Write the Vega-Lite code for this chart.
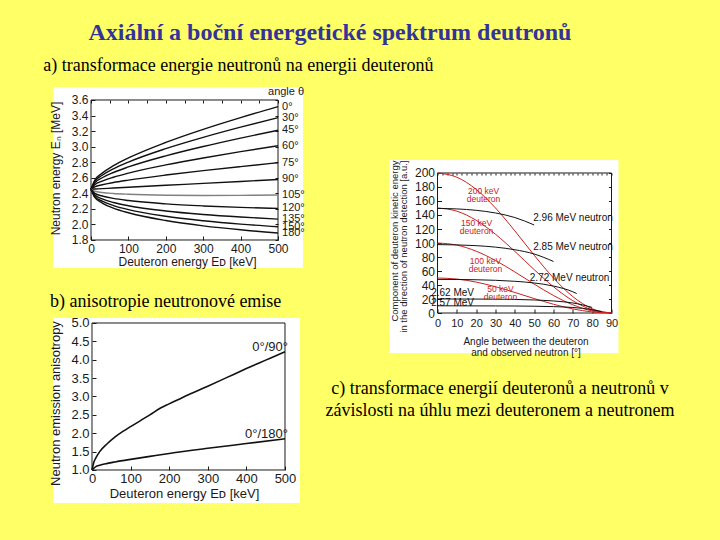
{
  "$schema": "https://vega.github.io/schema/vega-lite/v6.json",
  "background": "#FFFF66",
  "padding": {"left": 43, "top": 20, "right": 46, "bottom": 38},
  "title": {"text": "Axiální a boční energetické spektrum deutronů", "font": "Liberation Serif", "fontSize": 24, "fontWeight": "bold", "color": "#333399", "anchor": "middle", "dx": -29, "offset": 12},
  "config": {
    "view": {"stroke": null},
    "title": {"font": "Liberation Serif", "fontSize": 18, "fontWeight": "normal", "color": "#000000"},
    "axis": {"labelFont": "Liberation Sans", "titleFont": "Liberation Sans", "labelColor": "#1a1a1a", "titleColor": "#1a1a1a", "tickColor": "#1a1a1a", "grid": false, "titleFontWeight": "normal", "labelFlush": false, "labelOverlap": false, "labelBound": false, "domain": false},
    "text": {"font": "Liberation Sans"}
  },
  "datasets": {
    "energy": [
      {"E":0,"En":2.453,"angle":"0°"},{"E":10,"En":2.568,"angle":"0°"},{"E":30,"En":2.660,"angle":"0°"},{"E":60,"En":2.755,"angle":"0°"},{"E":100,"En":2.855,"angle":"0°"},{"E":200,"En":3.055,"angle":"0°"},{"E":300,"En":3.223,"angle":"0°"},{"E":400,"En":3.374,"angle":"0°"},{"E":500,"En":3.515,"angle":"0°"},
      {"E":0,"En":2.453,"angle":"30°"},{"E":10,"En":2.553,"angle":"30°"},{"E":30,"En":2.632,"angle":"30°"},{"E":60,"En":2.715,"angle":"30°"},{"E":100,"En":2.802,"angle":"30°"},{"E":200,"En":2.975,"angle":"30°"},{"E":300,"En":3.120,"angle":"30°"},{"E":400,"En":3.251,"angle":"30°"},{"E":500,"En":3.373,"angle":"30°"},
      {"E":0,"En":2.453,"angle":"45°"},{"E":10,"En":2.535,"angle":"45°"},{"E":30,"En":2.600,"angle":"45°"},{"E":60,"En":2.668,"angle":"45°"},{"E":100,"En":2.739,"angle":"45°"},{"E":200,"En":2.882,"angle":"45°"},{"E":300,"En":3.002,"angle":"45°"},{"E":400,"En":3.110,"angle":"45°"},{"E":500,"En":3.211,"angle":"45°"},
      {"E":0,"En":2.453,"angle":"60°"},{"E":10,"En":2.511,"angle":"60°"},{"E":30,"En":2.558,"angle":"60°"},{"E":60,"En":2.607,"angle":"60°"},{"E":100,"En":2.660,"angle":"60°"},{"E":200,"En":2.765,"angle":"60°"},{"E":300,"En":2.855,"angle":"60°"},{"E":400,"En":2.936,"angle":"60°"},{"E":500,"En":3.011,"angle":"60°"},
      {"E":0,"En":2.453,"angle":"75°"},{"E":10,"En":2.484,"angle":"75°"},{"E":30,"En":2.510,"angle":"75°"},{"E":60,"En":2.539,"angle":"75°"},{"E":100,"En":2.570,"angle":"75°"},{"E":200,"En":2.635,"angle":"75°"},{"E":300,"En":2.692,"angle":"75°"},{"E":400,"En":2.744,"angle":"75°"},{"E":500,"En":2.794,"angle":"75°"},
      {"E":0,"En":2.453,"angle":"90°"},{"E":10,"En":2.455,"angle":"90°"},{"E":30,"En":2.460,"angle":"90°"},{"E":60,"En":2.468,"angle":"90°"},{"E":100,"En":2.478,"angle":"90°"},{"E":200,"En":2.503,"angle":"90°"},{"E":300,"En":2.528,"angle":"90°"},{"E":400,"En":2.553,"angle":"90°"},{"E":500,"En":2.578,"angle":"90°"},
      {"E":0,"En":2.453,"angle":"105°"},{"E":10,"En":2.427,"angle":"105°"},{"E":30,"En":2.411,"angle":"105°"},{"E":60,"En":2.398,"angle":"105°"},{"E":100,"En":2.388,"angle":"105°"},{"E":200,"En":2.376,"angle":"105°"},{"E":300,"En":2.373,"angle":"105°"},{"E":400,"En":2.374,"angle":"105°"},{"E":500,"En":2.378,"angle":"105°"},
      {"E":0,"En":2.453,"angle":"120°"},{"E":10,"En":2.400,"angle":"120°"},{"E":30,"En":2.366,"angle":"120°"},{"E":60,"En":2.335,"angle":"120°"},{"E":100,"En":2.308,"angle":"120°"},{"E":200,"En":2.265,"angle":"120°"},{"E":300,"En":2.238,"angle":"120°"},{"E":400,"En":2.219,"angle":"120°"},{"E":500,"En":2.206,"angle":"120°"},
      {"E":0,"En":2.453,"angle":"135°"},{"E":10,"En":2.378,"angle":"135°"},{"E":30,"En":2.328,"angle":"135°"},{"E":60,"En":2.282,"angle":"135°"},{"E":100,"En":2.241,"angle":"135°"},{"E":200,"En":2.173,"angle":"135°"},{"E":300,"En":2.128,"angle":"135°"},{"E":400,"En":2.095,"angle":"135°"},{"E":500,"En":2.069,"angle":"135°"},
      {"E":0,"En":2.453,"angle":"150°"},{"E":10,"En":2.361,"angle":"150°"},{"E":30,"En":2.299,"angle":"150°"},{"E":60,"En":2.243,"angle":"150°"},{"E":100,"En":2.191,"angle":"150°"},{"E":200,"En":2.105,"angle":"150°"},{"E":300,"En":2.048,"angle":"150°"},{"E":400,"En":2.004,"angle":"150°"},{"E":500,"En":1.970,"angle":"150°"},
      {"E":0,"En":2.453,"angle":"180°"},{"E":10,"En":2.347,"angle":"180°"},{"E":30,"En":2.275,"angle":"180°"},{"E":60,"En":2.210,"angle":"180°"},{"E":100,"En":2.150,"angle":"180°"},{"E":200,"En":2.050,"angle":"180°"},{"E":300,"En":1.982,"angle":"180°"},{"E":400,"En":1.931,"angle":"180°"},{"E":500,"En":1.890,"angle":"180°"}
    ],
    "anis": [
      {"E":0,"A":1.0,"ratio":"0°/90°"},{"E":5,"A":1.22,"ratio":"0°/90°"},{"E":10,"A":1.33,"ratio":"0°/90°"},{"E":20,"A":1.5,"ratio":"0°/90°"},{"E":40,"A":1.72,"ratio":"0°/90°"},{"E":60,"A":1.9,"ratio":"0°/90°"},{"E":80,"A":2.05,"ratio":"0°/90°"},{"E":100,"A":2.18,"ratio":"0°/90°"},{"E":150,"A":2.5,"ratio":"0°/90°"},{"E":180,"A":2.7,"ratio":"0°/90°"},{"E":200,"A":2.8,"ratio":"0°/90°"},{"E":250,"A":3.05,"ratio":"0°/90°"},{"E":300,"A":3.28,"ratio":"0°/90°"},{"E":350,"A":3.52,"ratio":"0°/90°"},{"E":400,"A":3.76,"ratio":"0°/90°"},{"E":450,"A":3.99,"ratio":"0°/90°"},{"E":500,"A":4.22,"ratio":"0°/90°"},
      {"E":0,"A":1.0,"ratio":"0°/180°"},{"E":5,"A":1.05,"ratio":"0°/180°"},{"E":10,"A":1.09,"ratio":"0°/180°"},{"E":20,"A":1.13,"ratio":"0°/180°"},{"E":40,"A":1.18,"ratio":"0°/180°"},{"E":60,"A":1.22,"ratio":"0°/180°"},{"E":100,"A":1.29,"ratio":"0°/180°"},{"E":150,"A":1.37,"ratio":"0°/180°"},{"E":200,"A":1.45,"ratio":"0°/180°"},{"E":300,"A":1.59,"ratio":"0°/180°"},{"E":400,"A":1.72,"ratio":"0°/180°"},{"E":500,"A":1.85,"ratio":"0°/180°"}
    ],
    "comp": [
      {"angle":0,"value":200,"curve":"200 keV","kind":"deuteron"},{"angle":10,"value":193.97,"curve":"200 keV","kind":"deuteron"},{"angle":20,"value":176.6,"curve":"200 keV","kind":"deuteron"},{"angle":30,"value":150,"curve":"200 keV","kind":"deuteron"},{"angle":40,"value":117.36,"curve":"200 keV","kind":"deuteron"},{"angle":50,"value":82.64,"curve":"200 keV","kind":"deuteron"},{"angle":60,"value":50,"curve":"200 keV","kind":"deuteron"},{"angle":70,"value":23.4,"curve":"200 keV","kind":"deuteron"},{"angle":80,"value":6.03,"curve":"200 keV","kind":"deuteron"},{"angle":90,"value":0,"curve":"200 keV","kind":"deuteron"},
      {"angle":0,"value":150,"curve":"150 keV","kind":"deuteron"},{"angle":10,"value":145.48,"curve":"150 keV","kind":"deuteron"},{"angle":20,"value":132.45,"curve":"150 keV","kind":"deuteron"},{"angle":30,"value":112.5,"curve":"150 keV","kind":"deuteron"},{"angle":40,"value":88.02,"curve":"150 keV","kind":"deuteron"},{"angle":50,"value":61.98,"curve":"150 keV","kind":"deuteron"},{"angle":60,"value":37.5,"curve":"150 keV","kind":"deuteron"},{"angle":70,"value":17.55,"curve":"150 keV","kind":"deuteron"},{"angle":80,"value":4.52,"curve":"150 keV","kind":"deuteron"},{"angle":90,"value":0,"curve":"150 keV","kind":"deuteron"},
      {"angle":0,"value":100,"curve":"100 keV","kind":"deuteron"},{"angle":10,"value":96.98,"curve":"100 keV","kind":"deuteron"},{"angle":20,"value":88.3,"curve":"100 keV","kind":"deuteron"},{"angle":30,"value":75,"curve":"100 keV","kind":"deuteron"},{"angle":40,"value":58.68,"curve":"100 keV","kind":"deuteron"},{"angle":50,"value":41.32,"curve":"100 keV","kind":"deuteron"},{"angle":60,"value":25,"curve":"100 keV","kind":"deuteron"},{"angle":70,"value":11.7,"curve":"100 keV","kind":"deuteron"},{"angle":80,"value":3.02,"curve":"100 keV","kind":"deuteron"},{"angle":90,"value":0,"curve":"100 keV","kind":"deuteron"},
      {"angle":0,"value":50,"curve":"50 keV","kind":"deuteron"},{"angle":10,"value":48.49,"curve":"50 keV","kind":"deuteron"},{"angle":20,"value":44.15,"curve":"50 keV","kind":"deuteron"},{"angle":30,"value":37.5,"curve":"50 keV","kind":"deuteron"},{"angle":40,"value":29.34,"curve":"50 keV","kind":"deuteron"},{"angle":50,"value":20.66,"curve":"50 keV","kind":"deuteron"},{"angle":60,"value":12.5,"curve":"50 keV","kind":"deuteron"},{"angle":70,"value":5.85,"curve":"50 keV","kind":"deuteron"},{"angle":80,"value":1.51,"curve":"50 keV","kind":"deuteron"},{"angle":90,"value":0,"curve":"50 keV","kind":"deuteron"},
      {"angle":0,"value":149.4,"curve":"2.96 MeV","kind":"neutron"},{"angle":10,"value":148.7,"curve":"2.96 MeV","kind":"neutron"},{"angle":20,"value":146.7,"curve":"2.96 MeV","kind":"neutron"},{"angle":30,"value":142.9,"curve":"2.96 MeV","kind":"neutron"},{"angle":40,"value":136.4,"curve":"2.96 MeV","kind":"neutron"},{"angle":50,"value":125.8,"curve":"2.96 MeV","kind":"neutron"},
      {"angle":0,"value":97.7,"curve":"2.85 MeV","kind":"neutron"},{"angle":10,"value":97.3,"curve":"2.85 MeV","kind":"neutron"},{"angle":20,"value":96.2,"curve":"2.85 MeV","kind":"neutron"},{"angle":30,"value":94.1,"curve":"2.85 MeV","kind":"neutron"},{"angle":40,"value":90.4,"curve":"2.85 MeV","kind":"neutron"},{"angle":50,"value":84.3,"curve":"2.85 MeV","kind":"neutron"},{"angle":60,"value":73.6,"curve":"2.85 MeV","kind":"neutron"},
      {"angle":0,"value":48.0,"curve":"2.72 MeV","kind":"neutron"},{"angle":10,"value":47.9,"curve":"2.72 MeV","kind":"neutron"},{"angle":20,"value":47.5,"curve":"2.72 MeV","kind":"neutron"},{"angle":30,"value":46.7,"curve":"2.72 MeV","kind":"neutron"},{"angle":40,"value":45.3,"curve":"2.72 MeV","kind":"neutron"},{"angle":50,"value":42.9,"curve":"2.72 MeV","kind":"neutron"},{"angle":60,"value":38.5,"curve":"2.72 MeV","kind":"neutron"},{"angle":70,"value":30.3,"curve":"2.72 MeV","kind":"neutron"},{"angle":72,"value":27.8,"curve":"2.72 MeV","kind":"neutron"},
      {"angle":0,"value":20.1,"curve":"2.62 MeV","kind":"neutron"},{"angle":30,"value":19.8,"curve":"2.62 MeV","kind":"neutron"},{"angle":40,"value":19.4,"curve":"2.62 MeV","kind":"neutron"},{"angle":50,"value":18.6,"curve":"2.62 MeV","kind":"neutron"},{"angle":60,"value":17.2,"curve":"2.62 MeV","kind":"neutron"},{"angle":70,"value":14.3,"curve":"2.62 MeV","kind":"neutron"},{"angle":75,"value":11.7,"curve":"2.62 MeV","kind":"neutron"},{"angle":80,"value":7.9,"curve":"2.62 MeV","kind":"neutron"},
      {"angle":0,"value":10.3,"curve":"2.57 MeV","kind":"neutron"},{"angle":30,"value":10.1,"curve":"2.57 MeV","kind":"neutron"},{"angle":40,"value":10.0,"curve":"2.57 MeV","kind":"neutron"},{"angle":50,"value":9.7,"curve":"2.57 MeV","kind":"neutron"},{"angle":60,"value":9.1,"curve":"2.57 MeV","kind":"neutron"},{"angle":70,"value":7.9,"curve":"2.57 MeV","kind":"neutron"},{"angle":80,"value":4.8,"curve":"2.57 MeV","kind":"neutron"},{"angle":85,"value":2.0,"curve":"2.57 MeV","kind":"neutron"}
    ],
    "compLabels": [
      {"angle":23.8,"value":173.6,"text":["200 keV","deuteron"],"kind":"deuteron"},
      {"angle":20.2,"value":127.9,"text":["150 keV","deuteron"],"kind":"deuteron"},
      {"angle":24.8,"value":75.0,"text":["100 keV","deuteron"],"kind":"deuteron"},
      {"angle":32.6,"value":33.6,"text":["50 keV","deuteron"],"kind":"deuteron"},
      {"angle":70.1,"value":136.4,"text":"2.96 MeV neutron","kind":"neutron"},
      {"angle":70.1,"value":95.0,"text":"2.85 MeV neutron","kind":"neutron"},
      {"angle":68.3,"value":49.3,"text":"2.72 MeV neutron","kind":"neutron"},
      {"angle":7.8,"value":27.9,"text":"2.62 MeV","kind":"neutron"},
      {"angle":7.8,"value":15.0,"text":"2.57 MeV","kind":"neutron"}
    ]
  },
  "vconcat": [
    {
      "title": {"text": "a) transformace energie neutronů na energii deuteronů", "anchor": "start", "dx": -6, "offset": 11},
      "hconcat": [
        {
          "vconcat": [
            {
              "width": 250, "height": 181,
              "view": {"fill": "white", "stroke": null},
              "layer": [
                {
                  "data": {"values": [{}]},
                  "mark": {"type": "rect", "fill": "white", "fillOpacity": 0, "stroke": "#1a1a1a", "strokeWidth": 1},
                  "encoding": {
                    "x": {"datum": 0, "type": "quantitative", "scale": {"domain": [-101.6, 566.8], "nice": false, "zero": false},
                      "axis": {"orient": "bottom", "offset": -28, "values": [0,100,200,300,400,500], "tickSize": -4, "labelPadding": 7, "labelFontSize": 12, "title": "Deuteron energy  Eᴅ [keV]", "titleFontSize": 12, "titlePadding": 2, "titleX": 134}},
                    "x2": {"datum": 500},
                    "y": {"datum": 1.8, "type": "quantitative", "scale": {"domain": [1.44, 3.767], "nice": false, "zero": false},
                      "axis": {"orient": "left", "offset": -38, "values": [1.8,2.0,2.2,2.4,2.6,2.8,3.0,3.2,3.4,3.6], "format": ".1f", "tickSize": -4, "labelPadding": 7, "labelFontSize": 12, "title": "Neutron energy  Eₙ [MeV]", "titleFontSize": 12, "titlePadding": 9, "titleY": 81}},
                    "y2": {"datum": 3.6}
                  }
                },
                {
                  "data": {"name": "energy"},
                  "mark": {"type": "line", "interpolate": "monotone", "strokeWidth": 1.4},
                  "encoding": {
                    "x": {"field": "E", "type": "quantitative", "scale": {"domain": [-101.6, 566.8], "nice": false, "zero": false},
                      "axis": {"orient": "top", "offset": -13, "values": [0,50,100,150,200,250,300,350,400,450,500], "labels": false, "tickSize": -3, "title": null}},
                    "y": {"field": "En", "type": "quantitative", "scale": {"domain": [1.44, 3.767], "nice": false, "zero": false},
                      "axis": {"orient": "right", "offset": -25, "values": [1.8,2.0,2.2,2.4,2.6,2.8,3.0,3.2,3.4,3.6], "labels": false, "tickSize": -3, "title": null}},
                    "detail": {"field": "angle"},
                    "color": {"field": "angle", "type": "nominal", "legend": null,
                      "scale": {"domain": ["0°","30°","45°","60°","75°","90°","105°","120°","135°","150°","180°"], "range": ["#111111","#111111","#111111","#111111","#111111","#111111","#808080","#111111","#111111","#111111","#111111"]}}
                  }
                },
                {
                  "data": {"name": "energy"},
                  "transform": [{"filter": "datum.E == 500"}],
                  "mark": {"type": "text", "align": "left", "baseline": "middle", "dx": 4, "fontSize": 11, "color": "#1a1a1a"},
                  "encoding": {
                    "x": {"field": "E", "type": "quantitative", "scale": {"domain": [-101.6, 566.8], "nice": false, "zero": false}, "axis": null},
                    "y": {"field": "En", "type": "quantitative", "scale": {"domain": [1.44, 3.767], "nice": false, "zero": false}, "axis": null},
                    "text": {"field": "angle"}
                  }
                },
                {
                  "data": {"values": [{}]},
                  "mark": {"type": "text", "text": "angle θ", "align": "left", "baseline": "middle", "dx": -10, "dy": -8, "fontSize": 11, "color": "#1a1a1a"},
                  "encoding": {
                    "x": {"datum": 500, "type": "quantitative", "scale": {"domain": [-101.6, 566.8], "nice": false, "zero": false}, "axis": null},
                    "y": {"datum": 3.6, "type": "quantitative", "scale": {"domain": [1.44, 3.767], "nice": false, "zero": false}, "axis": null}
                  }
                }
              ],
              "resolve": {"axis": {"x": "independent", "y": "independent"}}
            },
            {
              "width": 247, "height": 185,
              "view": {"fill": "white", "stroke": null},
              "title": {"text": "b) anisotropie neutronové emise", "anchor": "start", "offset": 6},
              "layer": [
                {
                  "data": {"values": [{}]},
                  "mark": {"type": "rect", "fill": "white", "fillOpacity": 0, "stroke": "#1a1a1a", "strokeWidth": 1},
                  "encoding": {
                    "x": {"datum": 0, "type": "quantitative", "scale": {"domain": [-101.0, 538.9], "nice": false, "zero": false},
                      "axis": {"orient": "bottom", "offset": -33, "values": [0,100,200,300,400,500], "tickSize": -4, "labelPadding": 6, "labelFontSize": 13, "title": "Deuteron energy  Eᴅ [keV]", "titleFontSize": 13, "titlePadding": 2, "titleX": 131}},
                    "x2": {"datum": 500},
                    "y": {"datum": 1.0, "type": "quantitative", "scale": {"domain": [0.102, 5.136], "nice": false, "zero": false},
                      "axis": {"orient": "left", "offset": -39, "values": [1.0,1.5,2.0,2.5,3.0,3.5,4.0,4.5,5.0], "format": ".1f", "tickSize": -4, "labelPadding": 7, "labelFontSize": 13, "title": "Neutron emission anisotropy", "titleFontSize": 13, "titlePadding": 8, "titleY": 85}},
                    "y2": {"datum": 5.0}
                  }
                },
                {
                  "data": {"name": "anis"},
                  "mark": {"type": "line", "interpolate": "monotone", "strokeWidth": 1.6, "color": "#111111"},
                  "encoding": {
                    "x": {"field": "E", "type": "quantitative", "scale": {"domain": [-101.0, 538.9], "nice": false, "zero": false}, "axis": null},
                    "y": {"field": "A", "type": "quantitative", "scale": {"domain": [0.102, 5.136], "nice": false, "zero": false}, "axis": null},
                    "detail": {"field": "ratio"}
                  }
                },
                {
                  "data": {"name": "anis"},
                  "transform": [{"filter": "datum.E == 500"}],
                  "mark": {"type": "text", "align": "right", "baseline": "middle", "dx": 3, "dy": -5, "fontSize": 13, "color": "#1a1a1a"},
                  "encoding": {
                    "x": {"field": "E", "type": "quantitative", "scale": {"domain": [-101.0, 538.9], "nice": false, "zero": false}, "axis": null},
                    "y": {"field": "A", "type": "quantitative", "scale": {"domain": [0.102, 5.136], "nice": false, "zero": false}, "axis": null},
                    "text": {"field": "ratio"}
                  }
                }
              ],
              "resolve": {"axis": {"x": "independent", "y": "independent"}}
            }
          ],
          "spacing": 24
        },
        {
          "vconcat": [
            {
              "width": 1, "height": 72,
              "data": {"values": [{}]},
              "mark": {"type": "point", "opacity": 0}
            },
            {
              "width": 229, "height": 193,
              "view": {"fill": "white", "stroke": null},
              "title": {"text": ["c) transformace energií deuteronů a neutronů v", "závislosti na úhlu mezi deuteronem a neutronem"], "orient": "bottom", "anchor": "middle", "offset": 23, "lineHeight": 22, "dx": -4},
              "layer": [
                {
                  "data": {"values": [{}]},
                  "mark": {"type": "rect", "fill": "white", "fillOpacity": 0, "stroke": "#1a1a1a", "strokeWidth": 1},
                  "encoding": {
                    "x": {"datum": 0, "type": "quantitative", "scale": {"domain": [-24.83, 93.62], "nice": false, "zero": false},
                      "axis": {"orient": "bottom", "offset": -40, "values": [0,10,20,30,40,50,60,70,80,90], "tickSize": -4, "labelPadding": 8, "labelFontSize": 11, "title": ["Angle between the deuteron", "and observed neutron [°]"], "titleFontSize": 10, "titleLineHeight": 11, "titlePadding": 8, "titleX": 136}},
                    "x2": {"datum": 90},
                    "y": {"datum": 0, "type": "quantitative", "scale": {"domain": [-57.14, 218.57], "nice": false, "zero": false},
                      "axis": {"orient": "left", "offset": -48, "values": [0,20,40,60,80,100,120,140,160,180,200], "tickSize": -4, "labelPadding": 7, "labelFontSize": 12, "title": ["Component of deuteron kinetic energy", "in the direction of neutron detection [a.u.]"], "titleFontSize": 9.5, "titleLineHeight": 9, "titleAnchor": "end", "titlePadding": 6}},
                    "y2": {"datum": 200}
                  }
                },
                {
                  "data": {"name": "comp"},
                  "mark": {"type": "line", "interpolate": "monotone", "strokeWidth": 1},
                  "encoding": {
                    "x": {"field": "angle", "type": "quantitative", "scale": {"domain": [-24.83, 93.62], "nice": false, "zero": false},
                      "axis": {"orient": "top", "offset": -13, "values": [0,2.5,5,7.5,10,12.5,15,17.5,20,22.5,25,27.5,30,32.5,35,37.5,40,42.5,45,47.5,50,52.5,55,57.5,60,62.5,65,67.5,70,72.5,75,77.5,80,82.5,85,87.5,90], "labels": false, "tickSize": -2, "title": null}},
                    "y": {"field": "value", "type": "quantitative", "scale": {"domain": [-57.14, 218.57], "nice": false, "zero": false},
                      "axis": {"orient": "right", "offset": -7, "values": [0,20,40,60,80,100,120,140,160,180,200], "labels": false, "tickSize": -3, "title": null}},
                    "detail": {"field": "curve"},
                    "color": {"field": "kind", "type": "nominal", "legend": null, "scale": {"domain": ["deuteron", "neutron"], "range": ["#cc2020", "#111111"]}}
                  }
                },
                {
                  "data": {"name": "compLabels"},
                  "mark": {"type": "text", "align": "center", "baseline": "middle", "lineHeight": 8},
                  "encoding": {
                    "x": {"field": "angle", "type": "quantitative", "scale": {"domain": [-24.83, 93.62], "nice": false, "zero": false}, "axis": null},
                    "y": {"field": "value", "type": "quantitative", "scale": {"domain": [-57.14, 218.57], "nice": false, "zero": false}, "axis": null},
                    "text": {"field": "text"},
                    "color": {"field": "kind", "type": "nominal", "legend": null, "scale": {"domain": ["deuteron", "neutron"], "range": ["#cc2020", "#111111"]}},
                    "size": {"field": "kind", "type": "nominal", "legend": null, "scale": {"domain": ["deuteron", "neutron"], "range": [8.5, 10]}}
                  }
                }
              ],
              "resolve": {"axis": {"x": "independent", "y": "independent"}}
            }
          ],
          "spacing": 0
        }
      ],
      "spacing": 20.5,
      "resolve": {"scale": {"color": "independent", "size": "independent"}}
    }
  ]
}
